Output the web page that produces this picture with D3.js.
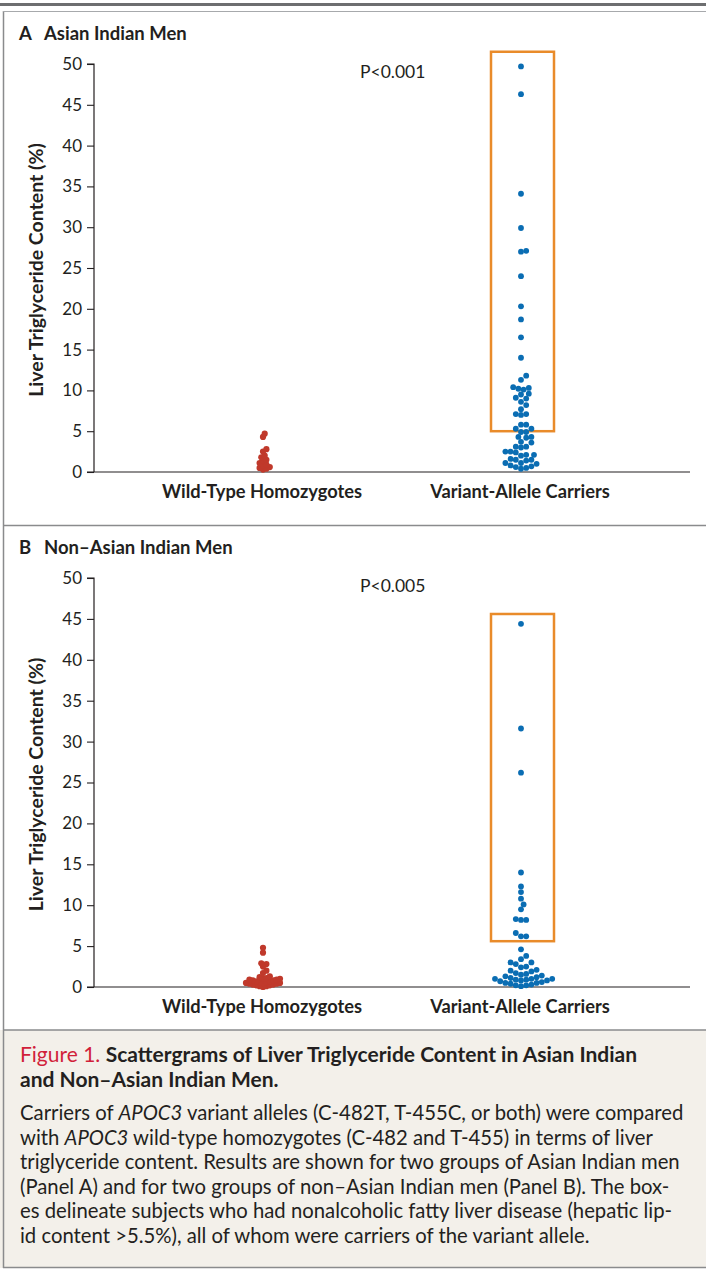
<!DOCTYPE html>
<html><head><meta charset="utf-8">
<script src="https://cdn.jsdelivr.net/npm/d3@7"></script>
<style>
body{margin:0;background:#fff;}
svg{display:block;font-family:"Lato","Open Sans",sans-serif;}
</style></head>
<body><svg id="c" width="706" height="1270"></svg>
<script>
// ---- data ----
const categories = ["Wild-Type Homozygotes", "Variant-Allele Carriers"];
const yTicks = [0,5,10,15,20,25,30,35,40,45,50];
const panelTitles = ["Asian Indian Men", "Non\u2013Asian Indian Men"];
const panelLetters = ["A", "B"];
const pLabels = ["P<0.001", "P<0.005"];
const boxRangeA = [5.0, 51.5];
const boxRangeB = [5.6, 45.6];
const wildA = [4.7,4.3,2.8,2.5,2.0,1.8,1.5,1.4,1.1,0.9,0.8,0.6,0.5,0.4,0.3];
const variantA = [49.7,46.3,34.1,29.9,27.0,27.1,24.0,20.3,18.7,16.5,14.0,11.8,11.3,10.4,10.3,10.2,10.1,9.6,9.5,9.1,9.0,8.6,8.2,7.7,7.1,7.0,7.1,5.8,5.8,5.3,5.3,4.9,4.9,4.3,4.3,4.2,3.7,3.6,3.1,3.0,3.1,2.5,2.4,2.5,2.1,2.0,2.1,1.5,1.4,1.5,1.6,1.1,1.0,1.1,0.8,0.7,0.6,0.5,0.4];
const wildB = [4.8,4.2,2.9,2.8,2.5,2.0,1.7,1.3,1.2,1.1,1.0,1.0,0.9,0.9,0.8,0.8,0.7,0.7,0.6,0.6,0.5,0.5,0.5,0.4,0.4,0.3,0.3,0.2,0.2,0.1,0.1,0.0];
const variantB = [44.4,31.6,26.2,14.0,12.3,11.6,10.8,10.1,9.5,8.2,8.2,8.3,6.6,6.2,6.2,4.6,3.8,3.4,3.0,3.0,2.8,2.5,2.4,2.1,2.0,1.9,1.7,1.6,1.5,1.4,1.3,1.2,1.1,1.0,1.0,1.0,0.9,0.9,0.8,0.8,0.7,0.6,0.5,0.5,0.4,0.3,0.2,0.2,0.1];
const captionTitle1 = "Scattergrams of Liver Triglyceride Content in Asian Indian";
const captionTitle2 = "and Non\u2013Asian Indian Men.";
const captionLines = [
  [["Carriers of ",0],["APOC3",1],[" variant alleles (C-482T, T-455C, or both) were compared",0]],
  [["with ",0],["APOC3",1],[" wild-type homozygotes (C-482 and T-455) in terms of liver",0]],
  [["triglyceride content. Results are shown for two groups of Asian Indian men",0]],
  [["(Panel A) and for two groups of non\u2013Asian Indian men (Panel B). The box-",0]],
  [["es delineate subjects who had nonalcoholic fatty liver disease (hepatic lip-",0]],
  [["id content >5.5%), all of whom were carriers of the variant allele.",0]]
];

const RED = "#c0392b", BLUE = "#0a6db3", ORANGE = "#e98b2a", INK = "#231f20";
const svg = d3.select("#c");

// frame
svg.append("rect").attr("x",0).attr("y",3).attr("width",706).attr("height",3).attr("fill","#6d6e70");
svg.append("rect").attr("x",0).attr("y",1030).attr("width",706).attr("height",238).attr("fill","#f3f0ea");
svg.append("line").attr("x1",3.5).attr("x2",3.5).attr("y1",11).attr("y2",1268).attr("stroke","#8a8b8d").attr("stroke-width",1.5);
svg.append("line").attr("x1",3).attr("x2",706).attr("y1",11.5).attr("y2",11.5).attr("stroke","#a7a9ac").attr("stroke-width",1);
[525.5,1030,1267.5].forEach(y=>svg.append("line").attr("x1",3).attr("x2",706).attr("y1",y).attr("y2",y).attr("stroke","#8a8b8d").attr("stroke-width",1.5));

function beeswarm(vals, y, cx, dx){
  const sorted = vals.map((v,i)=>({v,i})).sort((a,b)=>a.v-b.v);
  const placed = [];
  sorted.forEach(d=>{
    const py = y(d.v);
    let best = null;
    for(let k=0;k<60;k++){
      const offs = k===0?[0]:[k*dx*0.5,-k*dx*0.5];
      for(const o of offs){
        const ok = placed.every(p=>((p.x-(cx+o))**2+(p.y-py)**2) >= dx*dx);
        if(ok){best=o;break;}
      }
      if(best!==null)break;
    }
    placed.push({x:cx+best,y:py,v:d.v});
  });
  return placed;
}

function panel(idx, top, bottom, wild, variant, boxRange){
  const y = d3.scaleLinear().domain([0,50]).range([bottom, top]);
  const xc = c => ({"Wild-Type Homozygotes":263,"Variant-Allele Carriers":521})[c];
  const g = svg.append("g");
  // title
  const ty = top - 24;
  g.append("text").attr("x",19).attr("y",ty).attr("font-weight","bold").attr("font-size",18.5).attr("fill",INK).text(panelLetters[idx]);
  g.append("text").attr("x",44).attr("y",ty).attr("font-weight","bold").attr("font-size",18.5).attr("fill",INK).text(panelTitles[idx]);
  // y axis
  const ax = g.append("g").attr("transform","translate(94,0)").call(d3.axisLeft(y).tickValues(yTicks).tickSize(7).tickPadding(5));
  ax.select(".domain").attr("d",`M-7,${y(50)}H0V${y(0)}`).attr("stroke",INK).attr("stroke-width",1.2);
  ax.selectAll(".tick line").attr("stroke",INK).attr("stroke-width",1.1);
  ax.selectAll(".tick text").attr("font-size",17).attr("fill",INK).attr("font-family","Lato,sans-serif");
  // x axis
  g.append("line").attr("x1",87).attr("x2",690).attr("y1",y(0)).attr("y2",y(0)).attr("stroke",INK).attr("stroke-width",1.2);
  categories.forEach(c=>{
    g.append("text").attr("x",xc(c)-1).attr("y",y(0)+26).attr("text-anchor","middle").attr("font-weight","bold").attr("font-size",18.3).attr("fill",INK).text(c);
  });
  // y label
  g.append("text").attr("transform",`translate(43,${(y(0)+y(50))/2+2}) rotate(-90)`).attr("text-anchor","middle")
    .attr("font-weight","bold").attr("font-size",19.5).attr("fill",INK).text("Liver Triglyceride Content (%)");
  // P value
  g.append("text").attr("x",360).attr("y",y(50)+14).attr("font-size",17.5).attr("fill",INK).text(pLabels[idx]);
  // box
  g.append("rect").attr("x",491).attr("y",y(boxRange[1])).attr("width",63).attr("height",y(boxRange[0])-y(boxRange[1]))
    .attr("fill","none").attr("stroke",ORANGE).attr("stroke-width",2.5);
  // points
  const wp = beeswarm(wild, y, xc(categories[0]), 3.4);
  const vp = beeswarm(variant, y, xc(categories[1]), 5.2);
  g.selectAll(".w").data(wp).join("circle").attr("cx",d=>d.x).attr("cy",d=>d.y).attr("r",3.1).attr("fill",RED);
  g.selectAll(".v").data(vp).join("circle").attr("cx",d=>d.x).attr("cy",d=>d.y).attr("r",2.9).attr("fill",BLUE);
}
panel(0, 64, 472, wildA, variantA, boxRangeA);
panel(1, 578, 987, wildB, variantB, boxRangeB);

// caption
const cap = svg.append("g").attr("fill",INK);
const t1 = cap.append("text").attr("x",20).attr("y",1062).attr("font-weight","bold").attr("font-size",21);
t1.append("tspan").attr("fill","#d11f3a").attr("font-weight","normal").text("Figure 1. ");
t1.append("tspan").text(captionTitle1);
cap.append("text").attr("x",20).attr("y",1087).attr("font-weight","bold").attr("font-size",21).text(captionTitle2);
captionLines.forEach((line,i)=>{
  const t = cap.append("text").attr("x",20).attr("y",1120+i*24.6).attr("font-size",20.3);
  line.forEach(([s,it])=>t.append("tspan").attr("font-style",it?"italic":"normal").text(s));
});
</script></body></html>
